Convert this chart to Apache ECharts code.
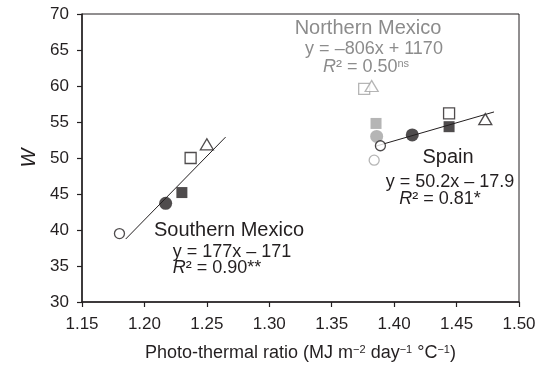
<!DOCTYPE html>
<html>
<head>
<meta charset="utf-8">
<script src="https://cdn.jsdelivr.net/npm/echarts@6/dist/echarts.min.js"></script>
<style>
  html, body { margin: 0; padding: 0; background: #fff; }
  #chart { width: 539px; height: 378px; }
</style>
</head>
<body>
<div id="chart"></div>
<script>
// marker order is the same for every region
const markerTypes = ['openCircle', 'filledCircle', 'filledSquare', 'openSquare', 'openTriangle']

const southX = [1.180, 1.217, 1.230, 1.237, 1.250]
const southY = [39.5, 43.7, 45.2, 50.0, 51.9]

const northX = [1.384, 1.386, 1.3855, 1.376, 1.382]
const northY = [49.7, 53.0, 54.8, 59.6, 60.0]

const spainX = [1.389, 1.4145, 1.444, 1.444, 1.473]
const spainY = [51.7, 53.2, 54.35, 56.2, 55.4]

// regression lines: [slope, intercept] and x range drawn
const southFit = [177, -171]
const southFitRange = [1.185, 1.265]
const spainFit = [50.2, -17.9]
const spainFitRange = [1.385, 1.48]

const xTicks = [1.15, 1.50, 0.05]
const yTicks = [30, 70, 5]

const FONT = '"Liberation Sans", Arial, Helvetica, sans-serif'
const INK = '#231f20'
const GREY = '#a3a3a3'

function markerSeries(name, xs, ys, color) {
  return markerTypes.map((t, i) => {
    const open = t.startsWith('open')
    let symbol = 'circle', size = 10
    if (t === 'filledCircle') size = 13
    if (t.endsWith('Square')) { symbol = 'rect'; size = 11 }
    if (t.endsWith('Triangle')) { symbol = 'triangle'; size = [13, 11] }
    return {
      name: name + '-' + t,
      type: 'scatter',
      symbol: symbol,
      symbolSize: size,
      z: 5,
      itemStyle: open
        ? { color: '#fff', borderColor: color, borderWidth: 1.3 }
        : { color: color, borderWidth: 0 },
      data: [[xs[i], ys[i]]]
    }
  })
}

function fitSeries(name, fit, range) {
  return {
    name: name,
    type: 'line',
    symbol: 'none',
    z: 3,
    lineStyle: { color: INK, width: 1 },
    data: range.map((x) => [x, fit[0] * x + fit[1]])
  }
}

const chart = echarts.init(document.getElementById('chart'))

const eqText = (x, y, txt, color, size) => ({
  type: 'text', x: x, y: y, z: 10,
  style: { text: txt, fill: color, fontSize: size, fontFamily: FONT, align: 'center', verticalAlign: 'middle' }
})
const r2Text = (x, y, val, sig, sup, color) => ({
  type: 'text', x: x, y: y, z: 10,
  style: {
    text: '{i|R}{n|² = ' + val + sig + '}' + (sup ? '{s|' + sup + '}' : ''),
    fill: color, fontSize: 18, fontFamily: FONT, align: 'center', verticalAlign: 'middle',
    rich: {
      i: { fontStyle: 'italic', fontSize: 18, fontFamily: FONT, fill: color },
      n: { fontSize: 18, fontFamily: FONT, fill: color },
      s: { fontSize: 11, fontFamily: FONT, fill: color, verticalAlign: 'top' }
    }
  }
})

chart.setOption({
  animation: false,
  backgroundColor: '#fff',
  grid: {
    left: 82, right: 20, top: 14, bottom: 76,
    show: true, borderColor: INK, borderWidth: 1
  },
  xAxis: {
    type: 'value',
    min: xTicks[0], max: xTicks[1], interval: xTicks[2],
    name: '{t|Photo-thermal ratio (MJ m}{s|−2}{t| day}{s|−1}{t| °C}{s|−1}{t|)}',
    nameLocation: 'middle',
    nameGap: 42,
    nameTextStyle: {
      rich: {
        t: { fontSize: 18, fontFamily: FONT, color: INK },
        s: { fontSize: 11, fontFamily: FONT, color: INK, verticalAlign: 'top' }
      }
    },
    axisLine: { lineStyle: { color: INK, width: 1.5 } },
    axisTick: { inside: false, length: 5, lineStyle: { color: INK, width: 1.2 } },
    axisLabel: {
      margin: 14, fontSize: 17, fontFamily: FONT, color: INK,
      formatter: (v) => v.toFixed(2)
    },
    splitLine: { show: false }
  },
  yAxis: {
    type: 'value',
    min: yTicks[0], max: yTicks[1], interval: yTicks[2],
    name: 'W',
    nameLocation: 'middle',
    nameRotate: 90,
    nameGap: 34,
    nameTextStyle: { fontSize: 20, fontStyle: 'italic', fontFamily: FONT, color: INK },
    axisLine: { lineStyle: { color: INK, width: 1.5 } },
    axisTick: { inside: false, length: 5, lineStyle: { color: INK, width: 1.2 } },
    axisLabel: { margin: 13, fontSize: 17, fontFamily: FONT, color: INK },
    splitLine: { show: false }
  },
  series: [
    fitSeries('south-fit', southFit, southFitRange),
    fitSeries('spain-fit', spainFit, spainFitRange),
    ...markerSeries('south', southX, southY, INK),
    ...markerSeries('north', northX, northY, GREY),
    ...markerSeries('spain', spainX, spainY, INK)
  ],
  graphic: [
    eqText(229, 230, 'Southern Mexico', INK, 20),
    eqText(232, 252, 'y = 177x – 171', INK, 18),
    r2Text(217, 268, '0.90', '**', '', INK),

    eqText(368, 28, 'Northern Mexico', '#8c8c8c', 20),
    eqText(374, 49, 'y = –806x + 1170', '#8c8c8c', 18),
    r2Text(366, 67, '0.50', '', 'ns', '#8c8c8c'),

    eqText(448, 157, 'Spain', INK, 20),
    eqText(450, 182, 'y = 50.2x – 17.9', INK, 18),
    r2Text(440, 199, '0.81', '*', '', INK)
  ]
})
</script>
</body>
</html>
